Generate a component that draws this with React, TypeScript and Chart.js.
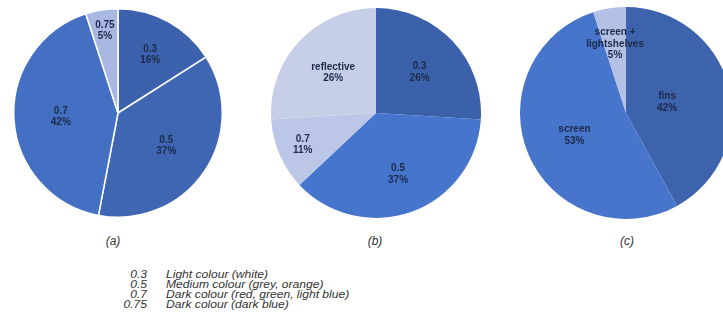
import React, { useEffect, useRef } from "react";
import { Chart, registerables } from "chart.js";

Chart.register(...registerables);

// ---- data ----
const labelsA = ["0.3", "0.5", "0.7", "0.75"];
const valuesA = [16, 37, 42, 5];
const labelsB = ["0.3", "0.5", "0.7", "reflective"];
const valuesB = [26, 37, 11, 26];
const labelsC = ["fins", "screen", "screen +\nlightshelves"];
const valuesC = [42, 53, 5];
const panelTitles = ["(a)", "(b)", "(c)"];
const legendValues = ["0.3", "0.5", "0.7", "0.75"];
const legendTexts = [
  "Light colour (white)",
  "Medium colour (grey, orange)",
  "Dark colour (red, green, light blue)",
  "Dark colour (dark blue)",
];

// ---- styles ----
const colorsA = ["#3c62ad", "#3f66b3", "#4470c4", "#a9b8e3"];
const colorsB = ["#3b61ab", "#4675cd", "#bcc6e6", "#c7cee8"];
const colorsC = ["#3d63ad", "#4675cb", "#b4c0e6"];
const labelFracA = [0.64, 0.56, 0.55, 0.8];
const labelFracB = [0.57, 0.62, 0.76, 0.56];
const labelFracC = [0.4, 0.53, 0.66];

const sliceLabelPlugin = {
  id: "sliceLabels",
  afterDatasetsDraw(chart: any) {
    const ctx = chart.ctx;
    const meta = chart.getDatasetMeta(0);
    const ds = chart.data.datasets[0];
    const fracs: number[] = (chart.options.plugins as any).sliceLabels.fracs;
    ctx.save();
    ctx.font = "bold 10px 'Liberation Sans', Arial, sans-serif";
    ctx.fillStyle = "#1d2a48";
    ctx.textAlign = "center";
    ctx.textBaseline = "middle";
    meta.data.forEach((arc: any, i: number) => {
      const p = arc.getProps(["startAngle", "endAngle", "outerRadius", "x", "y"], true);
      const mid = (p.startAngle + p.endAngle) / 2;
      const r = p.outerRadius * fracs[i];
      const cx = p.x + Math.cos(mid) * r;
      const cy = p.y + Math.sin(mid) * r;
      const total = (ds.data as number[]).reduce((a, b) => a + b, 0);
      const pct = Math.round(((ds.data[i] as number) / total) * 100) + "%";
      const lines = String(chart.data.labels[i]).split("\n").concat([pct]);
      const lh = 11.5;
      const y0 = cy - ((lines.length - 1) * lh) / 2;
      lines.forEach((ln, k) => ctx.fillText(ln, cx, y0 + k * lh));
    });
    ctx.restore();
  },
};

function Pie(props: {
  labels: string[];
  values: number[];
  colors: string[];
  fracs: number[];
  border: number;
  cx: number;
  cy: number;
  r: number;
}) {
  const ref = useRef<HTMLCanvasElement | null>(null);
  const { labels, values, colors, fracs, border, cx, cy, r } = props;
  useEffect(() => {
    if (!ref.current) return;
    const chart = new Chart(ref.current, {
      type: "pie",
      data: {
        labels,
        datasets: [
          {
            data: values,
            backgroundColor: colors,
            borderColor: "#ffffff",
            borderWidth: border,
            hoverOffset: 0,
          },
        ],
      },
      options: {
        animation: false,
        responsive: false,
        maintainAspectRatio: false,
        layout: { padding: 0 },
        plugins: {
          legend: { display: false },
          tooltip: { enabled: false },
          sliceLabels: { fracs },
        } as any,
      },
      plugins: [sliceLabelPlugin],
    });
    return () => chart.destroy();
  }, []);
  const size = r * 2 + 2;
  return (
    <canvas
      ref={ref}
      width={size}
      height={size}
      style={{
        position: "absolute",
        left: cx - size / 2,
        top: cy - size / 2,
        width: size,
        height: size,
      }}
    />
  );
}

export default function App() {
  const titleX = [113, 375, 627];
  return (
    <div
      style={{
        position: "absolute",
        left: 0,
        top: 0,
        width: 723,
        height: 333,
        overflow: "hidden",
        background: "#ffffff",
        fontFamily: "'Liberation Sans', Arial, sans-serif",
      }}
    >
      <Pie labels={labelsA} values={valuesA} colors={colorsA} fracs={labelFracA} border={1.5} cx={118} cy={113} r={104} />
      <Pie labels={labelsB} values={valuesB} colors={colorsB} fracs={labelFracB} border={0} cx={376} cy={113} r={104} />
      <Pie labels={labelsC} values={valuesC} colors={colorsC} fracs={labelFracC} border={0} cx={626} cy={113} r={105} />
      {panelTitles.map((t, i) => (
        <div
          key={t}
          style={{
            position: "absolute",
            left: titleX[i] - 20,
            width: 40,
            top: 234,
            textAlign: "center",
            fontStyle: "italic",
            fontSize: 12,
            color: "#333333",
            lineHeight: "14px",
          }}
        >
          {t}
        </div>
      ))}
      {legendValues.map((v, i) => (
        <React.Fragment key={v}>
          <div
            style={{
              position: "absolute",
              left: 97,
              width: 50,
              top: 268 + i * 10,
              textAlign: "right",
              fontStyle: "italic",
              fontSize: 10.5,
              lineHeight: "12px",
              color: "#333333",
              transform: "scaleX(1.15)",
              transformOrigin: "right center",
            }}
          >
            {v}
          </div>
          <div
            style={{
              position: "absolute",
              left: 166,
              top: 268 + i * 10,
              fontStyle: "italic",
              fontSize: 10.5,
              lineHeight: "12px",
              color: "#333333",
              whiteSpace: "nowrap",
              transform: "scaleX(1.15)",
              transformOrigin: "left center",
            }}
          >
            {legendTexts[i]}
          </div>
        </React.Fragment>
      ))}
    </div>
  );
}
